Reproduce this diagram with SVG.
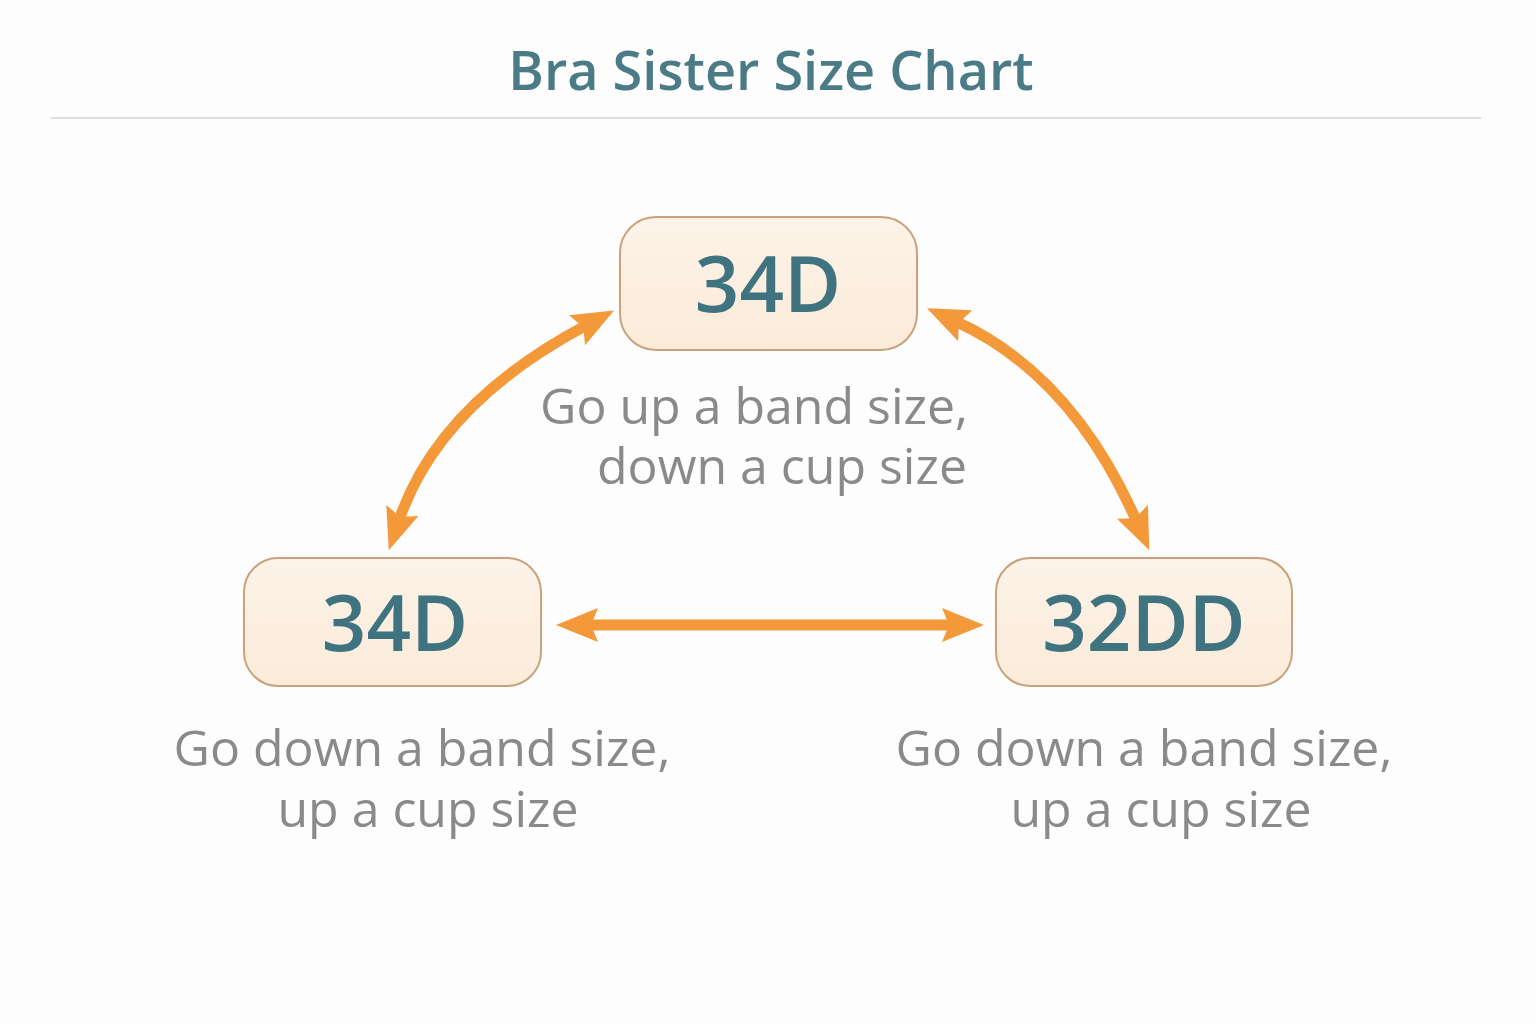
<svg xmlns="http://www.w3.org/2000/svg" width="1536" height="1024" viewBox="0 0 1536 1024">
<defs>
<style>
.title{font-family:"Open Sans","Noto Sans",sans-serif;font-weight:600;font-size:54px;fill:#4a7b86}
.size{font-family:"Open Sans","Noto Sans",sans-serif;font-weight:600;font-size:78px;fill:#3f7380}
.note{font-family:"Open Sans","Noto Sans",sans-serif;font-weight:400;font-size:50px;fill:#8a8a8a}
.box{fill:url(#boxfill);stroke:#c9a27c;stroke-width:2}
.conn{fill:none;stroke:#f4993a;stroke-width:11}
</style>
<linearGradient id="boxfill" x1="0" y1="0" x2="0" y2="1">
<stop offset="0" stop-color="#fdf3e8"/>
<stop offset="1" stop-color="#fbebd9"/>
</linearGradient>
<marker id="head" viewBox="0 0 42 34" refX="9" refY="17" markerWidth="42" markerHeight="34" markerUnits="userSpaceOnUse" orient="auto-start-reverse">
<path d="M0,0 L42,17 L0,34 L7,17 Z" fill="#f4993a"/>
</marker>
</defs>
<rect width="1536" height="1024" fill="#fdfdfd"/>
<text class="title" x="771" y="90" text-anchor="middle">Bra Sister Size Chart</text>
<line x1="51" y1="118" x2="1481" y2="118" stroke="#d4d4d4" stroke-width="1.5"/>
<g id="connectors">
<path class="conn" d="M585,326 Q439,404 399.5,519" marker-start="url(#head)" marker-end="url(#head)"/>
<path class="conn" d="M957,322 Q1072,375 1136,520" marker-start="url(#head)" marker-end="url(#head)"/>
<path class="conn" d="M589,625 L951,625" marker-start="url(#head)" marker-end="url(#head)"/>
</g>
<g id="node-top">
<rect class="box" x="620" y="217" width="297" height="133" rx="36"/>
<text class="size" x="768" y="312" text-anchor="middle">34D</text>
</g>
<g id="node-left">
<rect class="box" x="244" y="558" width="297" height="128" rx="34"/>
<text class="size" x="395" y="651" text-anchor="middle">34D</text>
</g>
<g id="node-right">
<rect class="box" x="996" y="558" width="296" height="128" rx="34"/>
<text class="size" x="1144" y="651" text-anchor="middle">32DD</text>
</g>
<g id="label-top">
<text class="note" x="968" y="424" text-anchor="end">Go up a band size,</text>
<text class="note" x="967" y="484" text-anchor="end">down a cup size</text>
</g>
<g id="label-left">
<text class="note" x="422" y="766" text-anchor="middle">Go down a band size,</text>
<text class="note" x="428" y="827" text-anchor="middle">up a cup size</text>
</g>
<g id="label-right">
<text class="note" x="1144" y="766" text-anchor="middle">Go down a band size,</text>
<text class="note" x="1161" y="827" text-anchor="middle">up a cup size</text>
</g>
</svg>
